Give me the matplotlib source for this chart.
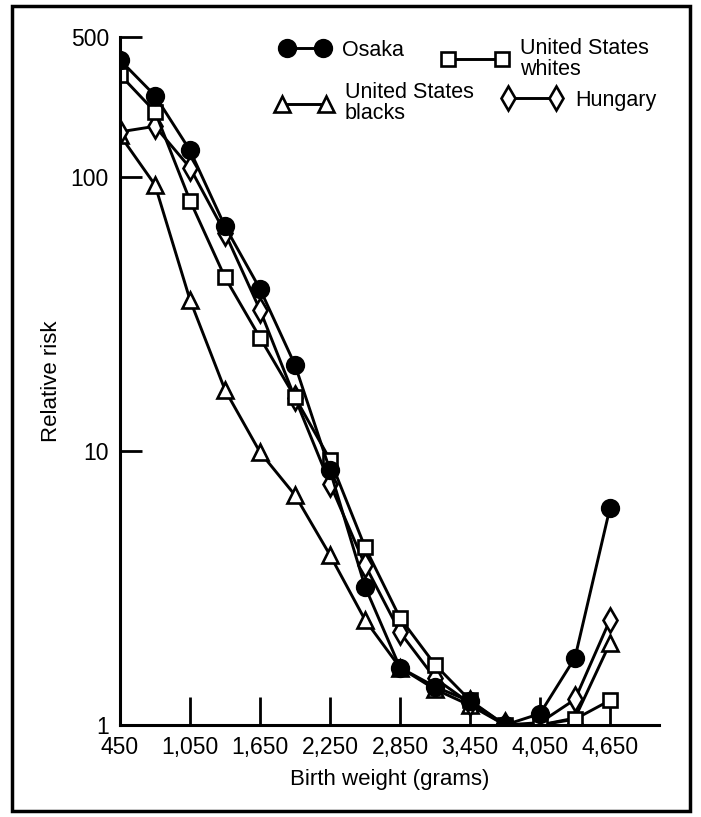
import matplotlib
matplotlib.use('Agg')
import matplotlib.pyplot as plt
from matplotlib.patches import Rectangle
from matplotlib.legend import Legend
from matplotlib.ticker import NullLocator

plt.rcParams['font.family'] = ['Liberation Sans', 'DejaVu Sans']

# birth weight classes (grams), one every 300 g
weights = [450, 750, 1050, 1350, 1650, 1950, 2250, 2550, 2850, 3150, 3450, 3750, 4050, 4350, 4650]

osaka = [267, 198, 125, 66, 39, 20.6, 8.5, 3.2, 1.62, 1.38, 1.22, 1.0, 1.1, 1.76, 6.2]
us_whites = [236, 173, 82, 43, 25.9, 15.7, 9.3, 4.46, 2.46, 1.66, 1.23, 1.0, 1.0, 1.05, 1.23]
us_blacks = [142, 93.5, 35.6, 16.7, 9.9, 6.9, 4.17, 2.42, 1.62, 1.35, 1.18, 1.0, 1.0, 1.06, 1.99]
hungary = [146, 153, 108, 62.5, 32.7, 15.6, 7.6, 3.84, 2.18, 1.48, 1.2, 1.0, 1.02, 1.24, 2.42]

x_ticks = [450, 1050, 1650, 2250, 2850, 3450, 4050, 4650]
x_labels = ['450', '1,050', '1,650', '2,250', '2,850', '3,450', '4,050', '4,650']
# the printed axis puts its "500" label at the top end of the axis
y_top = 324
y_ticks = [1, 10, 100, y_top]
y_labels = ['1', '10', '100', '500']

fig = plt.figure(figsize=(7.01, 8.17), dpi=100)
ax = fig.add_axes([120 / 701, 1 - 725 / 817, 539 / 701, 688 / 817])

style = dict(color='black', lw=2.1, mec='black', mew=1.9)
l_blacks, = ax.plot(weights, us_blacks, marker='^', ms=11, mfc='white', label='United States\nblacks', **style)
l_hung, = ax.plot(weights, hungary, marker='d', ms=12, mfc='white', label='Hungary', **style)
l_whites, = ax.plot(weights, us_whites, marker='s', ms=10, mfc='white', label='United States\nwhites', **style)
l_osaka, = ax.plot(weights, osaka, marker='o', ms=12, mfc='black', label='Osaka', **style)

ax.set_yscale('log')
ax.set_ylim(1, y_top)
ax.set_xlim(450, 5070)
ax.yaxis.set_minor_locator(NullLocator())
ax.set_yticks(y_ticks)
ax.set_yticklabels(y_labels)
ax.set_xticks(x_ticks)
ax.set_xticklabels(x_labels)

ax.tick_params(axis='x', direction='in', length=20, width=2, pad=8, labelsize=16.5)
ax.tick_params(axis='y', direction='in', length=16, width=2, pad=8, labelsize=16.5)

for side in ['top', 'right']:
    ax.spines[side].set_visible(False)
for side in ['left', 'bottom']:
    ax.spines[side].set_linewidth(2.2)

ax.set_xlabel('Birth weight (grams)', fontsize=16, labelpad=7)
ax.set_ylabel('Relative risk', fontsize=16, labelpad=6)

# one small legend per series, laid out like the printed key
entries = [
    (l_osaka, 0.298, 0.981, 2.27),
    (l_whites, 0.596, 0.968, 3.1),
    (l_blacks, 0.288, 0.904, 2.65),
    (l_hung, 0.708, 0.908, 2.83),
]
for line, fx, fy, hl in entries:
    leg = Legend(ax, [line], [line.get_label()], loc='center left', bbox_to_anchor=(fx, fy),
                 frameon=False, fontsize=15.5, numpoints=2, handlelength=hl,
                 handletextpad=0.58, borderpad=0, borderaxespad=0)
    for t in leg.get_texts():
        t.set_linespacing(0.95)
    ax.add_artist(leg)

fig.add_artist(Rectangle((12 / 701, 6 / 817), 678 / 701, 805 / 817,
                         transform=fig.transFigure, fill=False, lw=2.5, color='black'))

fig.savefig('out.png', dpi=100)
